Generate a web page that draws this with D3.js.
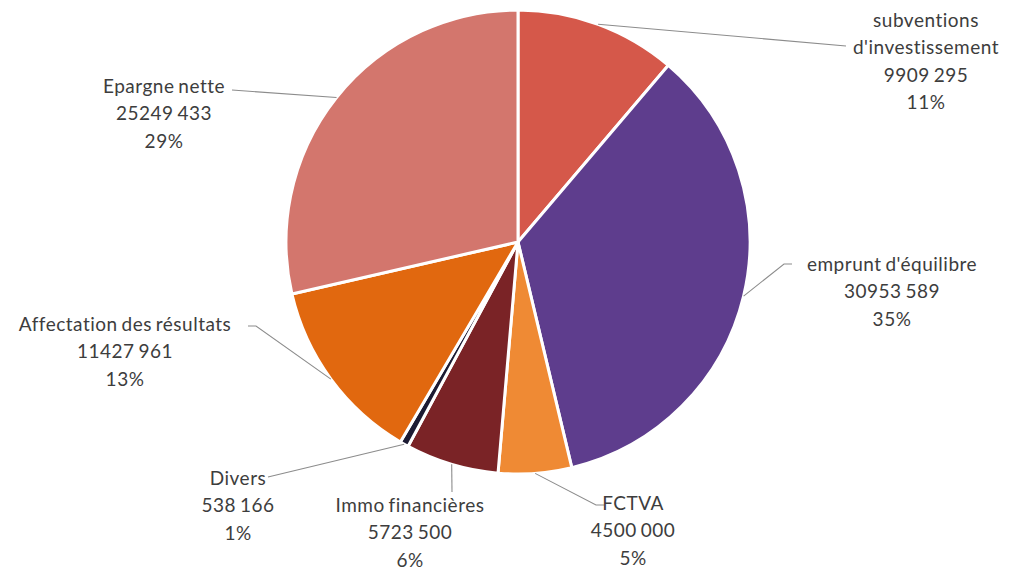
<!DOCTYPE html>
<html>
<head>
<meta charset="utf-8">
<script src="https://cdn.jsdelivr.net/npm/d3@7"></script>
<style>
  body { margin: 0; background: #fff; }
  svg text { font-family: Lato, "Open Sans", sans-serif; fill: #3d3d3d; }
</style>
</head>
<body>
<div id="chart"></div>
<script>
// Data, clockwise from 12 o'clock
const categories = ["subventions\nd'investissement", "emprunt d'équilibre", "FCTVA", "Immo financières", "Divers", "Affectation des résultats", "Epargne nette"];
const values = [9909295, 30953589, 4500000, 5723500, 538166, 11427961, 25249433];
const colors = ["#d5584a", "#5e3d8d", "#ef8a34", "#7a2326", "#1c1b33", "#e1680f", "#d3766d"];

// Label placement (text centre x, first line y, leader line end, elbow)
const labelLayout = [
  { x: 926, y: 20, end: [846, 46], elbow: null },
  { x: 892, y: 264, end: [792, 264], elbow: [784, 264] },
  { x: 633, y: 503, end: [604, 505], elbow: [596, 505] },
  { x: 410, y: 505, end: [452, 492], elbow: null },
  { x: 238, y: 478, end: [268, 477], elbow: null },
  { x: 125, y: 324, end: [248, 326], elbow: [256, 326] },
  { x: 164, y: 86, end: [232, 90], elbow: null }
];

const width = 1009, height = 571;
const cx = 518, cy = 242, radius = 232;
const lineH = 27.5;

const total = d3.sum(values);
const fmt = v => {
  const s = String(v);
  return s.slice(0, -3) + " " + s.slice(-3);
};

const svg = d3.select("#chart").append("svg")
  .attr("width", width)
  .attr("height", height);

const pie = d3.pie().sort(null).value(d => d)(values);
const arc = d3.arc().innerRadius(0).outerRadius(radius);

const g = svg.append("g").attr("transform", `translate(${cx},${cy})`);

g.selectAll("path")
  .data(pie)
  .join("path")
  .attr("d", arc)
  .attr("fill", (d, i) => colors[i])
  .attr("stroke", "#fff")
  .attr("stroke-width", 3)
  .attr("stroke-linejoin", "round");

// Leader lines from the arc edge midpoint to the label
const edgeArc = d3.arc().innerRadius(radius).outerRadius(radius);
svg.append("g").selectAll("polyline")
  .data(pie)
  .join("polyline")
  .attr("fill", "none")
  .attr("stroke", "#8c8c8c")
  .attr("stroke-width", 1.1)
  .attr("points", (d, i) => {
    const c = edgeArc.centroid(d);
    const pts = [[cx + c[0], cy + c[1]]];
    const L = labelLayout[i];
    if (L.elbow) pts.push(L.elbow);
    pts.push(L.end);
    return pts.map(p => p.join(",")).join(" ");
  });

// Labels
const labels = svg.append("g").selectAll("text")
  .data(pie)
  .join("text")
  .attr("text-anchor", "middle")
  .attr("font-size", 19)
  .attr("letter-spacing", 0.5)
  .attr("word-spacing", -1.5);

labels.each(function (d, i) {
  const L = labelLayout[i];
  const lines = categories[i].split("\n")
    .concat([fmt(values[i]), Math.round(values[i] / total * 100) + "%"]);
  d3.select(this).selectAll("tspan")
    .data(lines)
    .join("tspan")
    .attr("x", L.x)
    .attr("y", (t, k) => L.y + k * lineH)
    .attr("dy", "0.35em")
    .text(t => t);
});
</script>
</body>
</html>
